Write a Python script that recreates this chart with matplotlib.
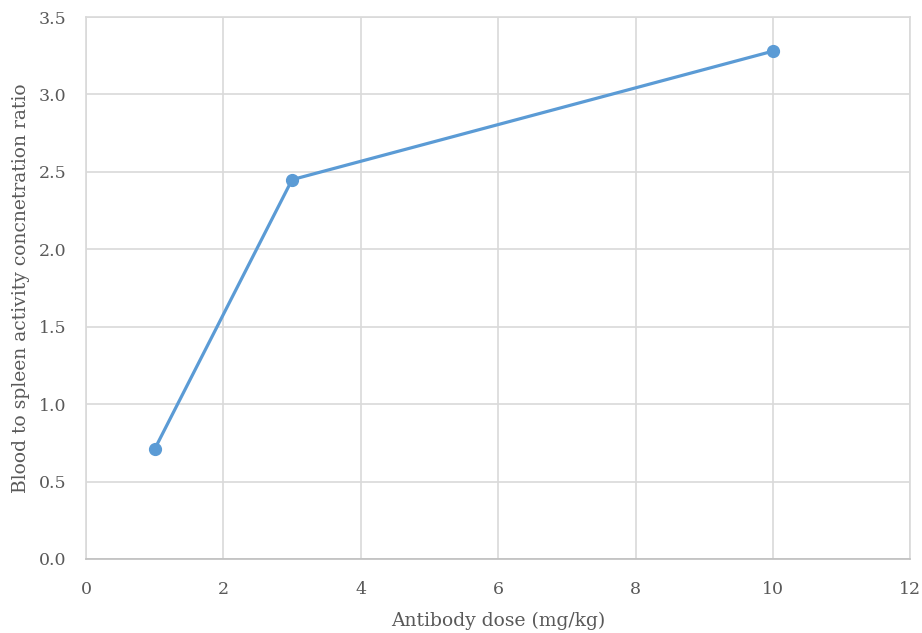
import matplotlib
matplotlib.use("Agg")
import matplotlib.pyplot as plt

# antibody dose vs blood/spleen ratio
dose = [1, 3, 10]
ratio = [0.71, 2.45, 3.28]
xticks = [0, 2, 4, 6, 8, 10, 12]
yticks = [0.0, 0.5, 1.0, 1.5, 2.0, 2.5, 3.0, 3.5]

plt.rcParams['font.family'] = ['DejaVu Serif']
txt = '#595959'
grid = '#d9d9d9'

fig = plt.figure(figsize=(9.22, 6.33), dpi=100)
ax = fig.add_axes([0.0933, 0.117, 0.894, 0.856])

ax.plot(dose, ratio, color='#5b9bd5', lw=2.3, marker='o', ms=8.5, zorder=3)

ax.set_xlim(0, 12)
ax.set_ylim(0, 3.5)
ax.set_xticks(xticks)
ax.set_yticks(yticks)
ax.set_yticklabels([f"{v:.1f}" for v in yticks])
ax.grid(True, color=grid, lw=1.2)
ax.set_axisbelow(True)
for s in ['top', 'right', 'left']:
    ax.spines[s].set_color(grid)
    ax.spines[s].set_linewidth(1.2)
ax.spines['bottom'].set_color('#bfbfbf')
ax.spines['bottom'].set_linewidth(1.2)
ax.tick_params(length=0, labelsize=12.5, colors=txt, pad=16)
ax.tick_params(axis='y', pad=14)

ax.set_xlabel('Antibody dose (mg/kg)', fontsize=13.5, color=txt, labelpad=10)
ax.set_ylabel('Blood to spleen activity concnetration ratio', fontsize=13.5, color=txt, labelpad=6)

fig.savefig('out.png', dpi=100)
